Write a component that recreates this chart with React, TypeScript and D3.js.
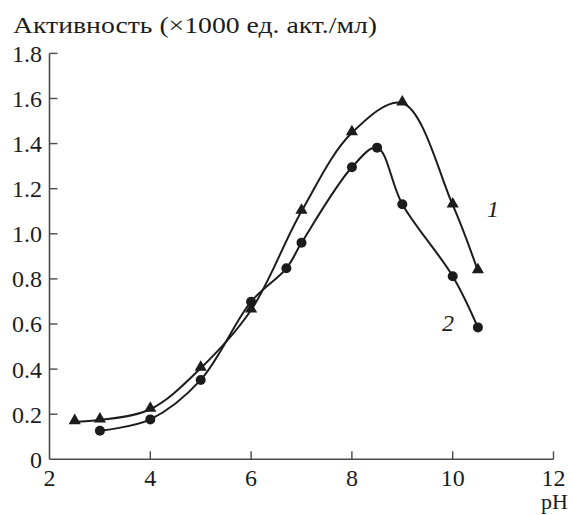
import React from "react";
import * as d3 from "d3";

const series1X = [2.5, 3, 4, 5, 6, 7, 8, 9, 10, 10.5];
const series1Y = [0.167, 0.174, 0.222, 0.404, 0.662, 1.1, 1.448, 1.58, 1.128, 0.836];
const series2X = [3, 4, 5, 6, 6.7, 7, 8, 8.5, 9, 10, 10.5];
const series2Y = [0.127, 0.177, 0.352, 0.699, 0.847, 0.96, 1.295, 1.382, 1.131, 0.812, 0.585];
const xTicks = [2, 4, 6, 8, 10, 12];
const yTicks = [0, 0.2, 0.4, 0.6, 0.8, 1.0, 1.2, 1.4, 1.6, 1.8];
const yTickLabels = ["0", "0.2", "0.4", "0.6", "0.8", "1.0", "1.2", "1.4", "1.6", "1.8"];
const title = "Активность (×1000 ед. акт./мл)";
const xTitle = "pH";
const label1 = "1";
const label2 = "2";

const W = 572;
const H = 515;
const FONT = "Liberation Serif, Times New Roman, serif";
const INK = "#1c1c1c";
const AXIS = "#4a4a4a";
const txt = { fontFamily: FONT };

export default function App() {
  const x = d3.scaleLinear().domain([2, 12]).range([49.5, 553.5]);
  const y = d3.scaleLinear().domain([0, 1.8]).range([459.3, 53.4]);

  const pts1 = series1X.map((v, i) => [v, series1Y[i]] as [number, number]);
  const pts2 = series2X.map((v, i) => [v, series2Y[i]] as [number, number]);
  const line = d3
    .line<[number, number]>()
    .x((d) => x(d[0]))
    .y((d) => y(d[1]))
    .curve(d3.curveCatmullRom.alpha(0.5));

  const tri = d3.symbol().type(d3.symbolTriangle).size(64)();

  return (
    <svg
      width={W}
      height={H}
      style={{ position: "absolute", left: 0, top: 0, background: "#fff", fontFamily: FONT }}
    >
      <text x={13} y={33} fontSize={24} fill={INK} style={txt} textLength={364} lengthAdjust="spacingAndGlyphs">
        {title}
      </text>
      <line x1={x(2)} x2={x(12)} y1={y(0)} y2={y(0)} stroke={AXIS} strokeWidth={1.6} />
      <line x1={x(2)} x2={x(2)} y1={y(0)} y2={y(1.8)} stroke={AXIS} strokeWidth={1.6} />
      {yTicks.slice(1).map((t) => (
        <line key={"yt" + t} x1={x(2)} x2={x(2) + 8} y1={y(t)} y2={y(t)} stroke={AXIS} strokeWidth={1.4} />
      ))}
      {xTicks.slice(1).map((t) => (
        <line key={"xt" + t} x1={x(t)} x2={x(t)} y1={y(0)} y2={y(0) - 8} stroke={AXIS} strokeWidth={1.4} />
      ))}
      {yTicks.map((t, i) => (
        <text key={"yl" + t} x={42} y={y(t)} dy="0.35em" textAnchor="end" fontSize={24} fill={INK} style={txt}>
          {yTickLabels[i]}
        </text>
      ))}
      {xTicks.map((t) => (
        <text key={"xl" + t} x={x(t)} y={486} textAnchor="middle" fontSize={24} fill={INK} style={txt}>
          {t}
        </text>
      ))}
      <text x={568} y={509} textAnchor="end" fontSize={22} fill={INK} style={txt}>
        {xTitle}
      </text>
      <path d={line(pts1) || ""} fill="none" stroke={INK} strokeWidth={2} />
      <path d={line(pts2) || ""} fill="none" stroke={INK} strokeWidth={2} />
      {pts1.map((d, i) => (
        <path key={"t" + i} d={tri || ""} transform={`translate(${x(d[0])},${y(d[1]) - 1})`} fill={INK} />
      ))}
      {pts2.map((d, i) => (
        <circle key={"c" + i} cx={x(d[0])} cy={y(d[1])} r={5} fill={INK} />
      ))}
      <text x={487} y={217} fontSize={24} fontStyle="italic" fill={INK} style={txt}>
        {label1}
      </text>
      <text x={442} y={331} fontSize={24} fontStyle="italic" fill={INK} style={txt}>
        {label2}
      </text>
    </svg>
  );
}
